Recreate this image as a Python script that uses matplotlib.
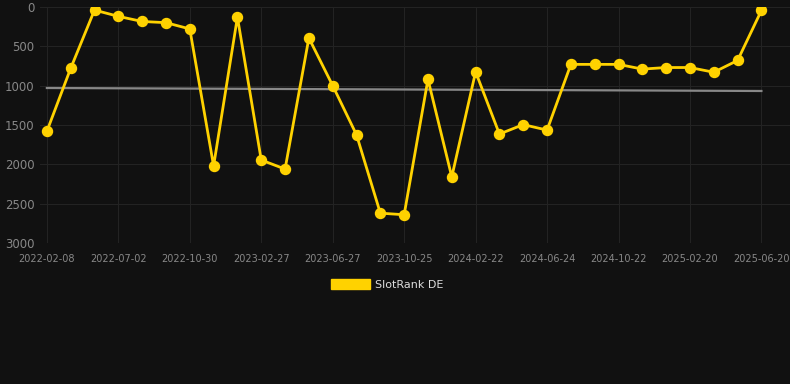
import matplotlib.pyplot as plt
from matplotlib.patches import Patch

# ----------------------------------------------- DATA -----------------------------------------------------------------
tick_labels = ['2022-02-08', '2022-07-02', '2022-10-30', '2023-02-27', '2023-06-27', '2023-10-25',
               '2024-02-22', '2024-06-24', '2024-10-22', '2025-02-20', '2025-06-20']
rank = [1580, 780, 40, 120, 185, 200, 280, 2020, 130, 1945, 2060, 395, 1000, 1625, 2620, 2640,
        920, 2160, 825, 1615, 1495, 1565, 730, 730, 730, 790, 770, 770, 830, 680, 45]
trend = [1030, 1068]

BG = '#111111'
GOLD = '#FFD200'


def main():
    fig = plt.figure(figsize=(7.9, 3.84), dpi=100, facecolor=BG)
    ax = fig.add_axes([0.0506, 0.367, 0.9494, 0.615], facecolor=BG)

    x = list(range(len(rank)))
    ax.plot([x[0], x[-1]], trend, color='#888888', linewidth=1.6, zorder=2)
    ax.plot(x, rank, color=GOLD, linewidth=2.0, marker='o', markersize=7.2,
            solid_joinstyle='miter', zorder=3)

    ax.set_xlim(-0.29, 31.2)
    ax.set_ylim(3000, 0)
    ax.set_yticks(range(0, 3001, 500))
    ax.set_xticks(x[::3])
    ax.set_xticklabels(tick_labels)

    ax.grid(True, color='#232323', linewidth=0.8)
    ax.set_axisbelow(True)
    for s in ax.spines.values():
        s.set_visible(False)
    ax.tick_params(axis='x', colors='#888888', labelsize=7, length=0, pad=8)
    ax.tick_params(axis='y', colors='#888888', labelsize=8.5, length=0, pad=4)

    fig.legend(handles=[Patch(color=GOLD, label='SlotRank DE')], loc='center',
               bbox_to_anchor=(0.49, 0.26), frameon=False, labelcolor='#dddddd',
               fontsize=8, handlelength=3.5, handleheight=1.0, handletextpad=0.5)

    fig.savefig('out.png', dpi=100, facecolor=BG)


if __name__ == '__main__':
    main()
